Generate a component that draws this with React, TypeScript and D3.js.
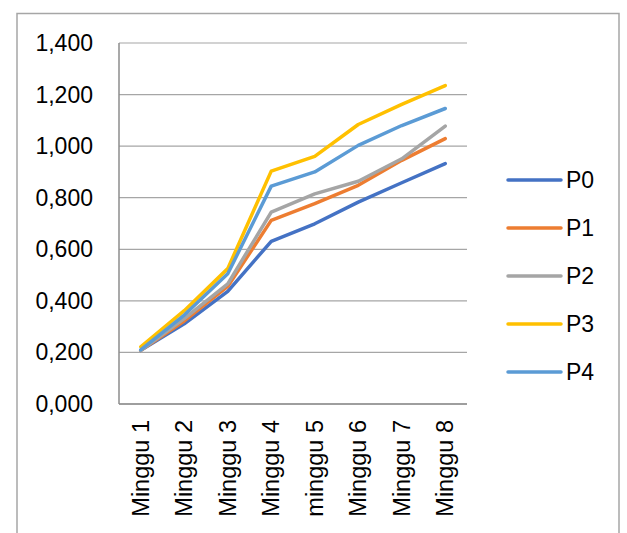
import React from "react";
import * as d3 from "d3";

const categories = ["Minggu 1", "Minggu 2", "Minggu 3", "Minggu 4", "minggu 5", "Minggu 6", "Minggu 7", "Minggu 8"];
const seriesNames = ["P0", "P1", "P2", "P3", "P4"];
const p0 = [0.208, 0.311, 0.437, 0.631, 0.699, 0.783, 0.858, 0.932];
const p1 = [0.208, 0.322, 0.456, 0.712, 0.777, 0.848, 0.945, 1.029];
const p2 = [0.208, 0.331, 0.466, 0.744, 0.815, 0.864, 0.951, 1.078];
const p3 = [0.222, 0.362, 0.525, 0.903, 0.960, 1.084, 1.162, 1.235];
const p4 = [0.210, 0.345, 0.505, 0.845, 0.900, 1.003, 1.080, 1.146];
const yTicks = [0, 0.2, 0.4, 0.6, 0.8, 1.0, 1.2, 1.4];
const colors = ["#4472C4", "#ED7D31", "#A5A5A5", "#FFC000", "#5B9BD5"];

const seriesValues = [p0, p1, p2, p3, p4];

const W = 627;
const H = 533;
const plot = { left: 119, right: 467, top: 43, bottom: 404 };
const font = "'Liberation Sans', Arial, sans-serif";

const locale = d3.formatLocale({ decimal: ",", thousands: ".", grouping: [3], currency: ["", ""] });
const fmt = locale.format(".3f");

export default function App() {
  const x = d3.scaleBand<string>().domain(categories).range([plot.left, plot.right]);
  const y = d3.scaleLinear().domain([0, 1.4]).range([plot.bottom, plot.top]);
  const cx = (c: string) => (x(c) ?? 0) + x.bandwidth() / 2;

  const line = d3
    .line<number>()
    .x((_, i) => cx(categories[i]))
    .y((d) => y(d));

  const legendY = d3.scalePoint<string>().domain(seriesNames).range([180, 372]);

  return (
    <svg
      width={W}
      height={H}
      style={{ position: "absolute", left: 0, top: 0, background: "#fff" }}
    >
      <rect x={17} y={13.5} width={602} height={540} fill="#fff" stroke="#a6a6a6" strokeWidth={1.5} />

      {/* horizontal gridlines */}
      {yTicks.map((t) => (
        <line
          key={`g${t}`}
          x1={plot.left}
          x2={plot.right}
          y1={y(t)}
          y2={y(t)}
          stroke="#a6a6a6"
          strokeWidth={1.2}
        />
      ))}

      {/* axes */}
      <line x1={plot.left} x2={plot.left} y1={plot.top} y2={plot.bottom} stroke="#8c8c8c" strokeWidth={1.5} />
      <line x1={plot.left} x2={plot.right} y1={plot.bottom} y2={plot.bottom} stroke="#8c8c8c" strokeWidth={1.5} />

      {/* y tick labels */}
      {yTicks.map((t) => (
        <text
          key={`t${t}`}
          x={93}
          y={y(t)}
          textAnchor="end"
          dominantBaseline="central"
          fontFamily={font}
          fontSize={23}
          fill="#000"
        >
          {fmt(t)}
        </text>
      ))}

      {/* x tick labels, rotated */}
      {categories.map((c) => (
        <text
          key={c}
          transform={`translate(${cx(c)},${plot.bottom + 16}) rotate(-90)`}
          textAnchor="end"
          dominantBaseline="central"
          fontFamily={font}
          fontSize={23.5}
          fill="#000"
        >
          {c}
        </text>
      ))}

      {/* series lines */}
      {seriesValues.map((vals, i) => (
        <path
          key={seriesNames[i]}
          d={line(vals) ?? ""}
          fill="none"
          stroke={colors[i]}
          strokeWidth={3.5}
          strokeLinejoin="round"
          strokeLinecap="round"
        />
      ))}

      {/* legend */}
      {seriesNames.map((name, i) => (
        <g key={`l${name}`} transform={`translate(0,${legendY(name)})`}>
          <line x1={508} x2={561} y1={0} y2={0} stroke={colors[i]} strokeWidth={3.5} strokeLinecap="round" />
          <text x={566} y={0} dominantBaseline="central" fontFamily={font} fontSize={23} fill="#000">
            {name}
          </text>
        </g>
      ))}
    </svg>
  );
}
